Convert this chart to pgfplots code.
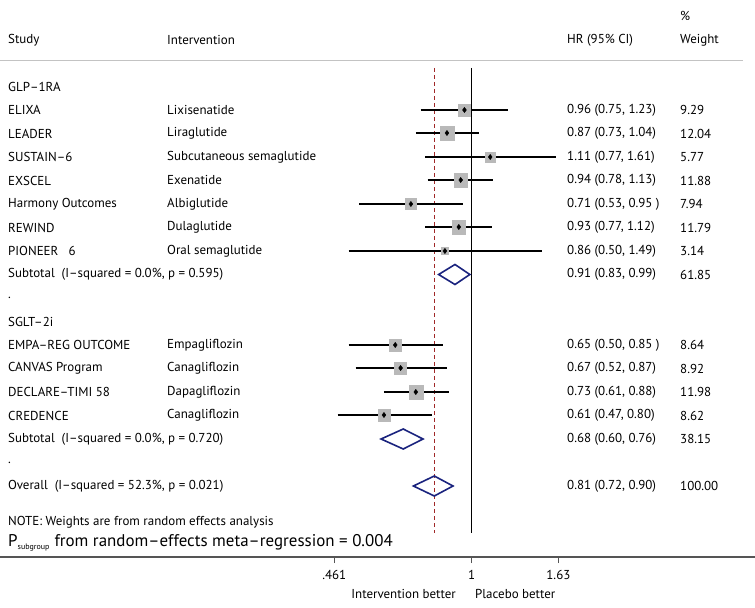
\documentclass[border=0pt]{standalone}
\usepackage{fontspec}
\setmainfont{PT Sans}
\usepackage{pgfplots}
\pgfplotsset{compat=1.18}

\definecolor{boxgray}{RGB}{185,185,185}
\definecolor{dianavy}{RGB}{26,35,126}
\definecolor{refred}{RGB}{160,40,40}
\definecolor{rulegray}{RGB}{195,195,195}
\definecolor{axisgray}{RGB}{85,85,85}

% text cell at pixel position (x from left, y from top)
\newcommand{\cell}[3]{\node[anchor=west,inner sep=0pt] at (rel axis cs:{#1/755},{1-#2/557}) {#3};}

\begin{document}
\begin{tikzpicture}[font=\fontsize{13}{15}\selectfont]
\begin{axis}[
    scale only axis, width=755bp, height=557bp,
    xmode=log, xmin=0.0701, xmax=4.935,
    ymin=-557, ymax=0,
    axis x line*=bottom, axis y line=none,
    x axis line style={axisgray, line width=1.3bp, -},
    xtick={0.461,1,1.63}, xticklabels={.461,1,1.63},
    xminorticks=false,
    tick align=outside, major tick length=6bp,
    xtick style={axisgray, line width=1bp},
    xticklabel style={yshift=-4pt},
    clip=false,
]
\coordinate (tl) at (rel axis cs:0,1);

% reference lines
\addplot[black, line width=1.1bp] coordinates {(1,-68) (1,-533)};
\addplot[refred, line width=0.9bp, dash pattern=on 4bp off 3bp] coordinates {(0.81,-68) (0.81,-533)};

% confidence intervals
\addplot[black, line width=2bp, unbounded coords=jump] coordinates {
    (0.75,-110) (1.23,-110) (nan,nan)
    (0.73,-133) (1.04,-133) (nan,nan)
    (0.77,-157) (1.61,-157) (nan,nan)
    (0.78,-180) (1.13,-180) (nan,nan)
    (0.53,-204) (0.95,-204) (nan,nan)
    (0.77,-227) (1.12,-227) (nan,nan)
    (0.50,-251) (1.49,-251) (nan,nan)
    (0.50,-345) (0.85,-345) (nan,nan)
    (0.52,-368) (0.87,-368) (nan,nan)
    (0.61,-392) (0.88,-392) (nan,nan)
    (0.47,-415) (0.80,-415)
};

% weight boxes
\addplot[scatter, only marks, mark=square*, draw=boxgray, fill=boxgray,
    mark options={draw=boxgray, fill=boxgray},
    scatter/use mapped color={draw=boxgray, fill=boxgray},
    visualization depends on={2.0*sqrt(\thisrow{w}) \as \msz},
    scatter/@pre marker code/.append style={/tikz/mark size=\msz bp}]
    table {
    hr y w
    0.96 -110 9.29
    0.87 -133 12.04
    1.11 -157 5.77
    0.94 -180 11.88
    0.71 -204 7.94
    0.93 -227 11.79
    0.86 -251 3.14
    0.65 -345 8.64
    0.67 -368 8.92
    0.73 -392 11.98
    0.61 -415 8.62
};

% point estimates
\addplot[only marks, mark=diamond*, mark size=2.6bp, black,
    mark options={draw=black, fill=black}] coordinates {
    (0.96,-110) (0.87,-133) (1.11,-157) (0.94,-180) (0.71,-204)
    (0.93,-227) (0.86,-251) (0.65,-345) (0.67,-368) (0.73,-392) (0.61,-415)
};

% pooled diamonds
\addplot[dianavy, line width=1.6bp, line join=miter] coordinates {
    (0.83,-274.5) (0.91,-264.5) (0.99,-274.5) (0.91,-284.5) (0.83,-274.5) (0.91,-264.5)};
\addplot[dianavy, line width=1.6bp, line join=miter] coordinates {
    (0.60,-439) (0.68,-429) (0.76,-439) (0.68,-449) (0.60,-439) (0.68,-429)};
\addplot[dianavy, line width=1.6bp, line join=miter] coordinates {
    (0.72,-486) (0.81,-476) (0.90,-486) (0.81,-496) (0.72,-486) (0.81,-476)};

% header rule
\draw[rulegray, line width=1bp] (rel axis cs:0,{1-61/557}) -- (rel axis cs:{743/755},{1-61/557});

% header
\cell{680}{16}{\%}
\cell{8}{40}{Study}
\cell{167}{40}{Intervention}
\cell{567}{40}{HR (95\% CI)}
\cell{680}{40}{Weight}

% rows
\cell{8}{86.5}{GLP–1RA}
\cell{8}{110}{ELIXA}\cell{167}{110}{Lixisenatide}\cell{567}{110}{0.96 (0.75, 1.23)}\cell{680}{110}{9.29}
\cell{8}{133.5}{LEADER}\cell{167}{133.5}{Liraglutide}\cell{567}{133.5}{0.87 (0.73, 1.04)}\cell{680}{133.5}{12.04}
\cell{8}{157}{SUSTAIN–6}\cell{167}{157}{Subcutaneous semaglutide}\cell{567}{157}{1.11 (0.77, 1.61)}\cell{680}{157}{5.77}
\cell{8}{180.5}{EXSCEL}\cell{167}{180.5}{Exenatide}\cell{567}{180.5}{0.94 (0.78, 1.13)}\cell{680}{180.5}{11.88}
\cell{8}{204}{Harmony Outcomes}\cell{167}{204}{Albiglutide}\cell{567}{204}{0.71 (0.53, 0.95 )}\cell{680}{204}{7.94}
\cell{8}{227.5}{REWIND}\cell{167}{227.5}{Dulaglutide}\cell{567}{227.5}{0.93 (0.77, 1.12)}\cell{680}{227.5}{11.79}
\cell{8}{251}{PIONEER\ \ \ 6}\cell{167}{251}{Oral semaglutide}\cell{567}{251}{0.86 (0.50, 1.49)}\cell{680}{251}{3.14}
\cell{8}{274.5}{Subtotal\ \ (I–squared = 0.0\%, p = 0.595)}\cell{567}{274.5}{0.91 (0.83, 0.99)}\cell{680}{274.5}{61.85}
\cell{8}{298}{.}
\cell{8}{321.5}{SGLT–2i}
\cell{8}{345}{EMPA–REG OUTCOME}\cell{167}{345}{Empagliflozin}\cell{567}{345}{0.65 (0.50, 0.85 )}\cell{680}{345}{8.64}
\cell{8}{368.5}{CANVAS Program}\cell{167}{368.5}{Canagliflozin}\cell{567}{368.5}{0.67 (0.52, 0.87)}\cell{680}{368.5}{8.92}
\cell{8}{392}{DECLARE–TIMI 58}\cell{167}{392}{Dapagliflozin}\cell{567}{392}{0.73 (0.61, 0.88)}\cell{680}{392}{11.98}
\cell{8}{415.5}{CREDENCE}\cell{167}{415.5}{Canagliflozin}\cell{567}{415.5}{0.61 (0.47, 0.80)}\cell{680}{415.5}{8.62}
\cell{8}{439}{Subtotal\ \ (I–squared = 0.0\%, p = 0.720)}\cell{567}{439}{0.68 (0.60, 0.76)}\cell{680}{439}{38.15}
\cell{8}{462.5}{.}
\cell{8}{486}{Overall\ \ (I–squared = 52.3\%, p = 0.021)}\cell{567}{486}{0.81 (0.72, 0.90)}\cell{680}{486}{100.00}
\cell{8}{522}{NOTE: Weights are from random effects analysis}
\cell{8}{543}{\fontsize{17}{19}\selectfont P\textsubscript{\fontsize{8}{9}\selectfont subgroup} from random–effects meta–regression = 0.004}

% direction labels
\node[anchor=east, inner sep=0pt] at (rel axis cs:{456/755},{1-594/557}) {Intervention better};
\node[anchor=west, inner sep=0pt] at (rel axis cs:{475/755},{1-594/557}) {Placebo better};
\end{axis}
\pgfresetboundingbox
\path[use as bounding box] (tl) rectangle ([shift={(755bp,-608bp)}]tl);
\end{tikzpicture}
\end{document}
